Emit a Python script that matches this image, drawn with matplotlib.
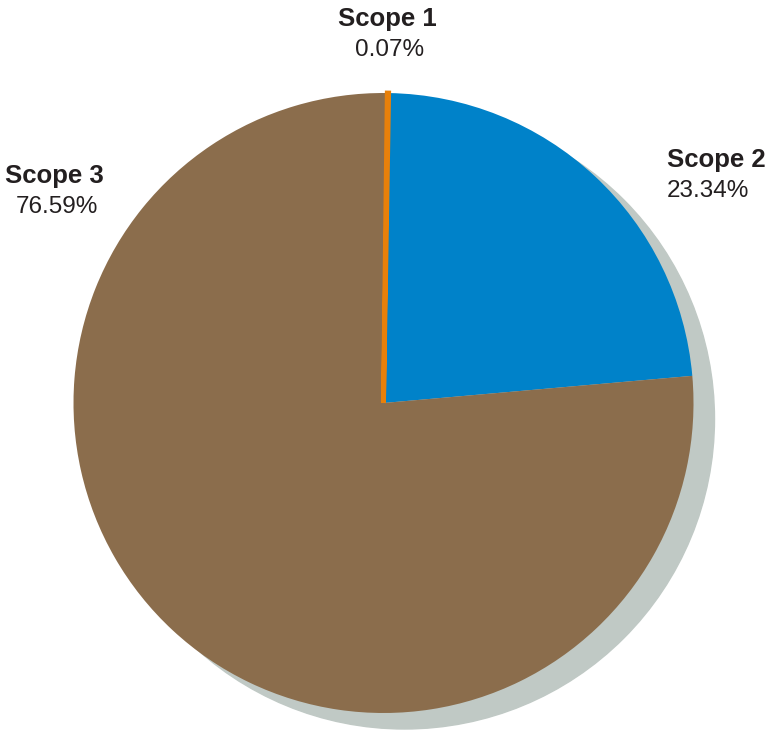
import matplotlib
matplotlib.use("Agg")
import matplotlib.pyplot as plt
from matplotlib.patches import Circle

plt.rcParams['font.family'] = ['Liberation Sans', 'DejaVu Sans']

# Daten
scopes = ["Scope 1", "Scope 2", "Scope 3"]
anteile = [0.07, 23.34, 76.59]
farben = ["#e8800a", "#0082c9", "#8b6d4c"]

B, H = 772, 731
fig = plt.figure(figsize=(B / 100, H / 100), dpi=100)
ax = fig.add_axes([0, 0, 1, 1])

mitte = (383.5, H - 403)
radius = 310

# Schatten
schatten = Circle((mitte[0] + 21, mitte[1] - 16), radius, color="#c0c9c5", zorder=1)
ax.add_patch(schatten)

wedges, _ = ax.pie(anteile, colors=farben, startangle=89.3, counterclock=False,
                   center=mitte, radius=radius, frame=True)
for w in wedges:
    w.set_zorder(2)
# kleinstes Segment sichtbar machen
wedges[0].set_edgecolor(farben[0])
wedges[0].set_linewidth(3.5)
wedges[0].set_zorder(3)
ax.set_xlim(0, B)
ax.set_ylim(0, H)
ax.set_aspect("equal")
ax.axis("off")

textfarbe = "#231f20"
positionen = [(387, 19, 50, "center"), (667, 160, 191, "left"), (54, 176, 207, "center")]
for name, wert, (x, y1, y2, ha) in zip(scopes, anteile, positionen):
    ax.text(x, H - y1, name, fontsize=18.5, fontweight="bold", color=textfarbe,
            ha=ha, va="center")
    ax.text(x + (3 if ha == "center" else 0), H - y2, "{:.2f}%".format(wert),
            fontsize=17.5, color=textfarbe, ha=ha, va="center")

fig.savefig("out.png", dpi=100)
